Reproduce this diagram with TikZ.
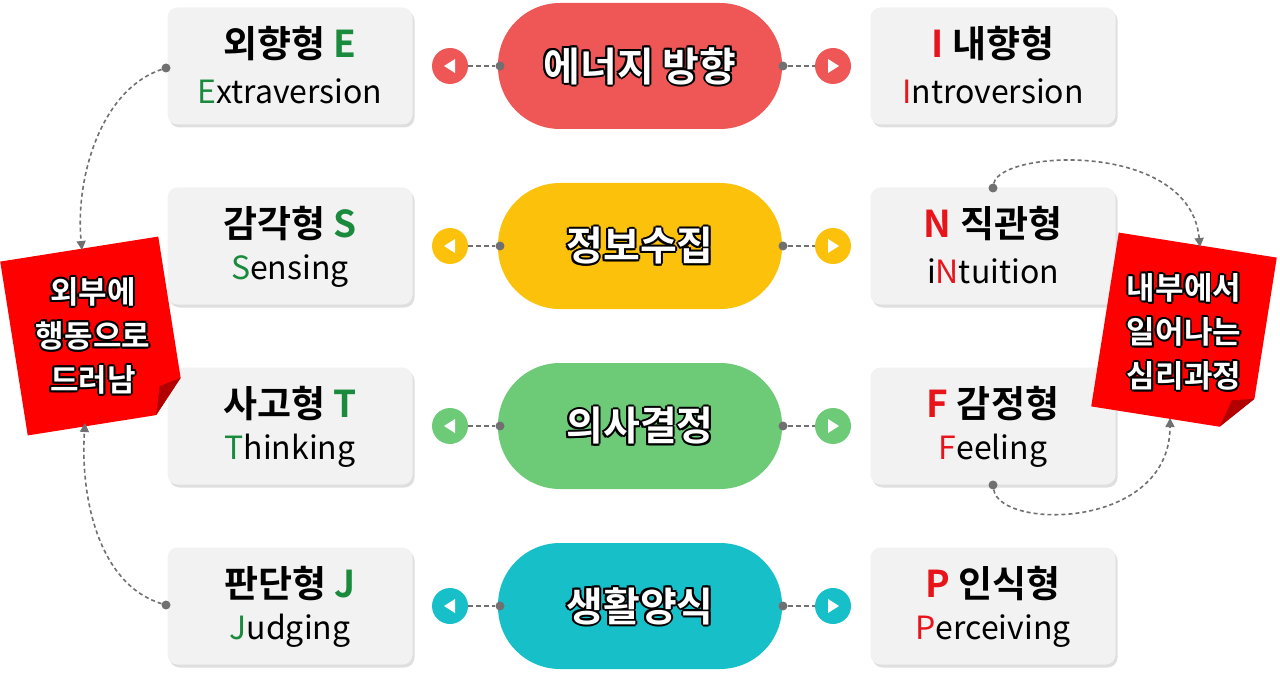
\documentclass[tikz,border=0pt]{standalone}
\usepackage{fontspec}
\setmainfont{Noto Sans CJK KR}
\newfontfamily\kb{Noto Sans CJK KR Bold}
\usetikzlibrary{arrows.meta,shadows}
\definecolor{cR}{HTML}{EF5656}
\definecolor{cY}{HTML}{FCC10A}
\definecolor{cG}{HTML}{6DCB78}
\definecolor{cT}{HTML}{17BFC9}
\definecolor{gL}{HTML}{1A8A3C}
\definecolor{rL}{HTML}{E8141B}
\definecolor{bx}{HTML}{F2F2F2}
\definecolor{ln}{HTML}{707070}
\definecolor{nt}{HTML}{FF0000}
\tikzset{
 x=1pt,y=-1pt,
 pill/.style={rounded corners=62pt,minimum width=284pt,minimum height=126pt,fill=#1,inner sep=0pt},
 side/.style={rounded corners=10pt,fill=bx,minimum width=245pt,minimum height=117pt,drop shadow={opacity=0.25,shadow xshift=2pt,shadow yshift=-3pt}},
 bub/.style={circle,fill=#1,minimum size=36pt,inner sep=0pt},
 dot/.style={circle,fill=ln,minimum size=9pt,inner sep=0pt},
 dl/.style={ln,line width=2pt,dash pattern=on 5pt off 3pt},
 cu/.style={ln,line width=1.6pt,dash pattern=on 4pt off 3pt,-{Triangle[length=9pt,width=9pt]}},
 ol/.style={font=\kb\fontsize{40}{44}\selectfont,text=white},
 nf/.style={font=\kb\fontsize{31}{44}\selectfont,text=white},
 sk/.style={font=\kb\fontsize{37}{40}\selectfont},
 se/.style={font=\fontsize{32}{34}\selectfont}
}
\newcommand{\olt}[4]{\foreach \dx/\dy in {-2/0,2/0,0/-2,0/2,-1.5/-1.5,1.5/1.5,-1.5/1.5,1.5/-1.5}{\node[#4,text=black,align=center] at ([shift={(\dx,\dy)}]#1,#2) {#3};}\node[#4,align=center] at (#1,#2) {#3};}
\begin{document}
\begin{tikzpicture}
\useasboundingbox (0,0) rectangle (1280,679);
\foreach \n/\y/\c/\t in {1/66/cR/에너지 방향,2/246/cY/정보수집,3/426/cG/의사결정,4/606/cT/생활양식}{
 \node[pill=\c] (p\n) at (640,\y) {};
 \node[side] (l\n) at (290,\y) {};
 \node[side] (r\n) at (993,\y) {};
 \node[bub=\c] (bl\n) at (450,\y) {};
 \node[bub=\c] (br\n) at (833,\y) {};
 \fill[white] (444,\y) -- (455,\y-7) -- (455,\y+7) -- cycle;
 \fill[white] (839,\y) -- (828,\y-7) -- (828,\y+7) -- cycle;
 \node[dot] (dl\n) at (500,\y) {};
 \node[dot] (dr\n) at (783,\y) {};
 \draw[dl] (bl\n) -- (dl\n);
 \draw[dl] (dr\n) -- (br\n);
 \olt{640}{\y}{\t}{ol}
}
\node[dot] (el) at (166,68) {};
\node[dot] (jl) at (166,605) {};
\node[dot] (nr) at (993,188) {};
\node[dot] (fr) at (993,485) {};
\node[sk] (t1a) at (290,44) {외향형 \textcolor{gL}{E}};
\node[se] (t1b) at (290,91) {\textcolor{gL}{E}xtraversion};
\node[sk] (t2a) at (290,224) {감각형 \textcolor{gL}{S}};
\node[se] (t2b) at (290,271) {\textcolor{gL}{S}ensing};
\node[sk] (t3a) at (290,404) {사고형 \textcolor{gL}{T}};
\node[se] (t3b) at (290,451) {\textcolor{gL}{T}hinking};
\node[sk] (t4a) at (290,584) {판단형 \textcolor{gL}{J}};
\node[se] (t4b) at (290,631) {\textcolor{gL}{J}udging};
\node[sk] (u1a) at (993,44) {\textcolor{rL}{I} 내향형};
\node[se] (u1b) at (993,91) {\textcolor{rL}{I}ntroversion};
\node[sk] (u2a) at (993,224) {\textcolor{rL}{N} 직관형};
\node[se] (u2b) at (993,271) {i\textcolor{rL}{N}tuition};
\node[sk] (u3a) at (993,404) {\textcolor{rL}{F} 감정형};
\node[se] (u3b) at (993,451) {\textcolor{rL}{F}eeling};
\node[sk] (u4a) at (993,584) {\textcolor{rL}{P} 인식형};
\node[se] (u4b) at (993,631) {\textcolor{rL}{P}erceiving};
\begin{scope}[shift={(93,336)},rotate=9]
 \fill[nt] (-80,-88) -- (80,-88) -- (80,55) -- (50,88) -- (-80,88) -- cycle;
 \fill[nt!70!black] (80,55) -- (50,88) -- (58,60) -- cycle;
 \olt{0}{0}{외부에\\행동으로\\드러남}{nf}
\end{scope}
\begin{scope}[shift={(1184,332)},rotate=-9]
 \fill[nt] (-80,-88) -- (80,-88) -- (80,55) -- (50,88) -- (-80,88) -- cycle;
 \fill[nt!70!black] (80,55) -- (50,88) -- (58,60) -- cycle;
 \olt{0}{0}{내부에서\\일어나는\\심리과정}{nf}
\end{scope}
\coordinate (nl1) at (82,250);
\coordinate (nl2) at (85,423);
\coordinate (nr1) at (1200,247);
\coordinate (nr2) at (1170,418);
\draw[cu] (el) .. controls (100,90) and (75,180) .. (nl1);
\draw[cu] (jl) .. controls (100,585) and (80,500) .. (nl2);
\draw[cu] (nr) .. controls (1000,150) and (1190,140) .. (nr1);
\draw[cu] (fr) .. controls (1000,530) and (1170,530) .. (nr2);
\end{tikzpicture}
\end{document}
